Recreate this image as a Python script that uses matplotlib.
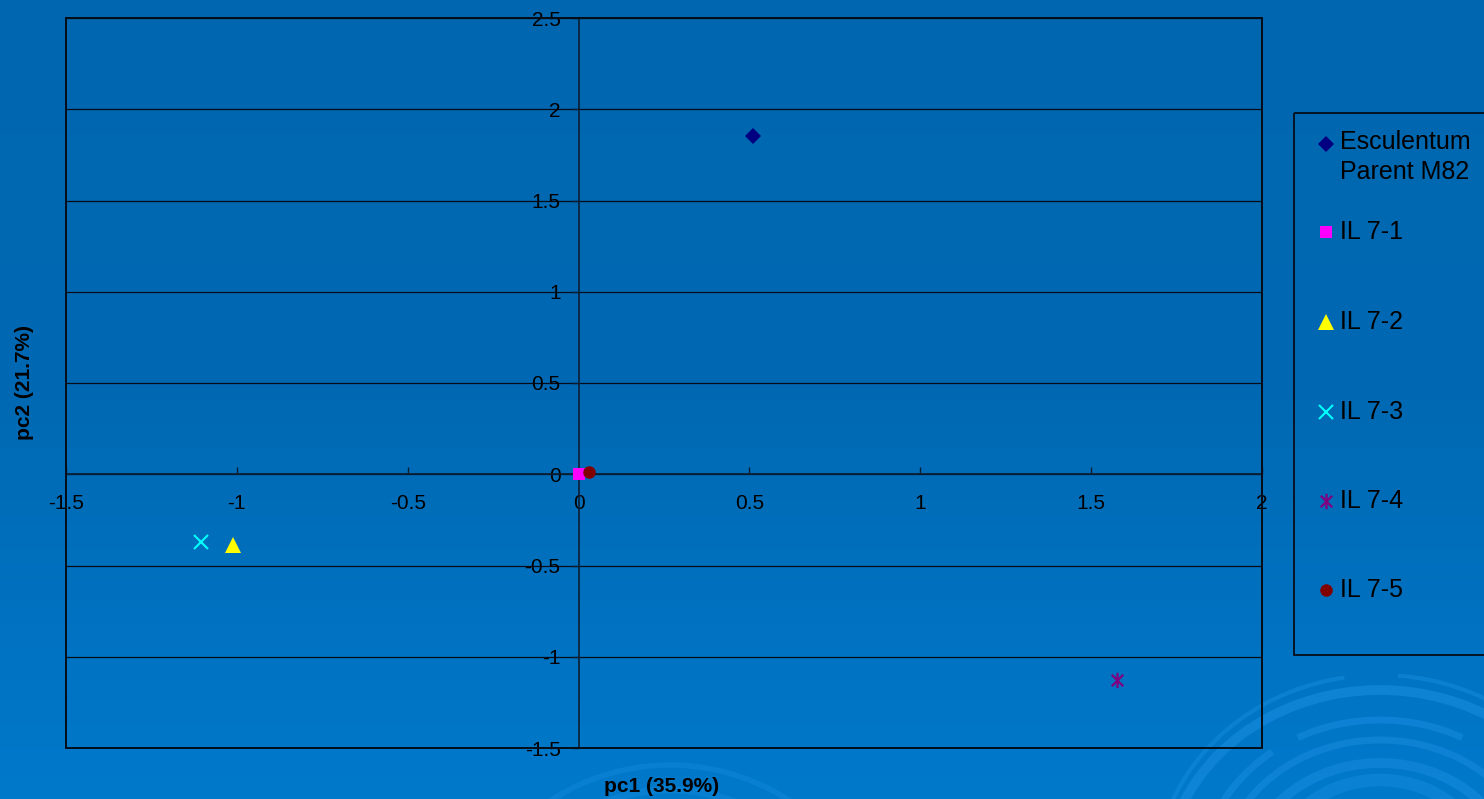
import numpy as np
import matplotlib
matplotlib.use("Agg")
import matplotlib.pyplot as plt
from matplotlib.path import Path
from matplotlib.patches import Rectangle, Arc
from matplotlib.ticker import MultipleLocator, FuncFormatter
from matplotlib.colors import LinearSegmentedColormap

plt.rcParams['font.family'] = ['Liberation Sans', 'DejaVu Sans']

# ---- data ----
series_names = ["Esculentum\nParent M82", "IL 7-1", "IL 7-2", "IL 7-3", "IL 7-4", "IL 7-5"]
pc1_values = [0.51, 0.0, -1.01, -1.105, 1.575, 0.03]
pc2_values = [1.855, 0.0, -0.39, -0.37, -1.125, 0.012]
x_label = "pc1 (35.9%)"
y_label = "pc2 (21.7%)"
x_ticks = [-1.5, -1.0, -0.5, 0.0, 0.5, 1.0, 1.5, 2.0]
y_ticks = [-1.5, -1.0, -0.5, 0.0, 0.5, 1.0, 1.5, 2.0, 2.5]

# ---- styles ----
star = Path([(0, -1), (0, 1), (-0.75, -0.75), (0.75, 0.75), (-0.75, 0.75), (0.75, -0.75)],
            [Path.MOVETO, Path.LINETO, Path.MOVETO, Path.LINETO, Path.MOVETO, Path.LINETO])
styles = [
    dict(marker='D', color='#000080', ms=8.5, mew=0),
    dict(marker='s', color='#FF00FF', ms=8.5, mew=0),
    dict(marker='^', color='#FFFF00', ms=11, mew=0),
    dict(marker='x', color='#00FFFF', ms=9.5, mew=1.5),
    dict(marker=star, color='#800080', ms=11, mew=1.6),
    dict(marker='o', color='#800000', ms=9, mew=0),
]

W, H = 1484, 799
fig = plt.figure(figsize=(W / 100, H / 100), dpi=100)

# background gradient
bg = fig.add_axes([0, 0, 1, 1], zorder=-10)
grad = np.linspace(0, 1, 256).reshape(-1, 1)
cmap = LinearSegmentedColormap.from_list('bg', ['#0066B0', '#0069B3', '#0079CB'])
bg.imshow(grad, aspect='auto', cmap=cmap, extent=[0, W, H, 0], origin='upper')
# decorative swirls (background ornament)
swirl = '#1A8EE0'
for (cx, cy, rx, ry, t1, t2, lw, a) in [
    (1380, 880, 225, 205, 20, 85, 3, 0.45), (1380, 880, 225, 205, 100, 160, 3, 0.45),
    (1380, 880, 215, 190, 30, 175, 7, 0.55),
    (1380, 880, 180, 160, 60, 120, 5, 0.5), (1380, 880, 180, 160, 130, 165, 5, 0.5),
    (1380, 880, 160, 140, 20, 175, 5, 0.5),
    (1380, 880, 135, 117, 15, 170, 7, 0.5),
    (1380, 880, 110, 100, 20, 165, 9, 0.45),
    (670, 1010, 230, 245, 45, 135, 4, 0.35),
    (670, 1010, 200, 220, 50, 130, 5, 0.35),
]:
    bg.add_patch(Arc((cx, cy), 2 * rx, 2 * ry, theta1=-t2, theta2=-t1,
                     color=swirl, lw=lw, alpha=a))
bg.set_xlim(0, W)
bg.set_ylim(H, 0)
bg.axis('off')

# main axes
L, R, T, B = 66, 1262, 18, 748
ax = fig.add_axes([L / W, 1 - B / H, (R - L) / W, (B - T) / H])
ax.set_facecolor('none')
ax.set_xlim(-1.5, 2.0)
ax.set_ylim(-1.5, 2.5)

for y in y_ticks:
    ax.axhline(y, color='#050d18', lw=0.9, zorder=1)

ax.spines['left'].set_position(('data', 0))
ax.spines['bottom'].set_position(('data', 0))
for s in ['left', 'bottom']:
    ax.spines[s].set_color('#0b1e33')
    ax.spines[s].set_linewidth(1.2)
for s in ['top', 'right']:
    ax.spines[s].set_color('#050d18')
    ax.spines[s].set_linewidth(1.4)
ax.add_patch(Rectangle((0, 0), 1, 1, transform=ax.transAxes, fill=False,
                       ec='#050d18', lw=1.4, zorder=5, clip_on=False))

ax.set_xticks(x_ticks)
ax.set_yticks(y_ticks)
fmt = FuncFormatter(lambda v, p: '%g' % v if abs(v) > 1e-9 else '0')
ax.xaxis.set_major_formatter(fmt)
ax.yaxis.set_major_formatter(fmt)
ax.tick_params(axis='x', direction='in', length=5, width=1, color='#0b1e33',
               labelsize=15, pad=14, labelcolor='black')
ax.tick_params(axis='y', direction='out', length=5, width=1, color='#0b1e33',
               labelsize=15, pad=8, labelcolor='black')

for name, x, y, st in zip(series_names, pc1_values, pc2_values, styles):
    ax.plot([x], [y], linestyle='none', marker=st['marker'], color=st['color'],
            markersize=st['ms'], markeredgewidth=st['mew'], zorder=6, clip_on=False)

# axis labels
fig.text(662 / W, 1 - 787 / H, x_label, ha='center', va='center', fontsize=15, fontweight='bold')
fig.text(25 / W, 1 - 383 / H, y_label, ha='center', va='center', rotation=90,
         fontsize=15, fontweight='bold')

# legend (manual, figure pixel layout)
lg = fig.add_axes([0, 0, 1, 1], zorder=5)
lg.set_xlim(0, W)
lg.set_ylim(H, 0)
lg.axis('off')
lg.add_patch(Rectangle((1294, 113), 200, 542, fill=False, ec='#050d18', lw=1.3))
leg_y = [144, 232, 322, 412, 501, 590]
for name, y, st in zip(series_names, leg_y, styles):
    lg.plot([1326], [y], linestyle='none', marker=st['marker'], color=st['color'],
            markersize=st['ms'], markeredgewidth=st['mew'])
    if '\n' in name:
        lg.text(1340, 157, name, ha='left', va='center', fontsize=18, linespacing=1.32)
    else:
        lg.text(1340, y, name, ha='left', va='center', fontsize=18)

fig.savefig('out.png', dpi=100)
